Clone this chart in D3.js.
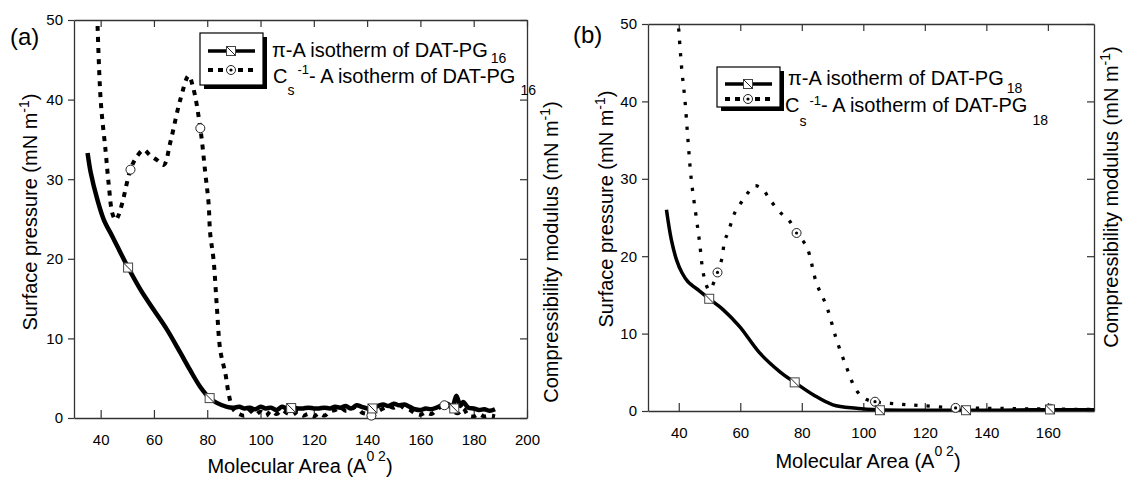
<!DOCTYPE html>
<html>
<head>
<meta charset="utf-8">
<script src="https://cdn.jsdelivr.net/npm/d3@7"></script>
<style>
  body { margin: 0; background: #fff; }
  text { font-family: "Liberation Sans", Arial, sans-serif; fill: #000; }
</style>
</head>
<body>
<svg id="chart" width="1131" height="478"></svg>
<script>
// ---- data ----
var pressureTicks = [0, 10, 20, 30, 40, 50];
var areaTicksA = [40, 60, 80, 100, 120, 140, 160, 180, 200];
var areaTicksB = [40, 60, 80, 100, 120, 140, 160];

// (a) DAT-PG16 : pi-A isotherm  [area, mN/m]
var piA = [[35.1,33.3],[36.3,30.8],[38.8,27.4],[41.2,24.9],[44.4,22.8],[46.2,21.6],[50.3,18.9],
  [55,16.1],[59.9,13.6],[64.9,11.1],[69.9,8.2],[73.6,6],[77.4,3.9],[80.9,2.5],[83.6,1.9],[87.4,1.4],
  [90,1.3],[92,1.4],[94,1.2],[96,1.3],[98,1.1],[100,1.4],[102,1.2],[104,1.3],[106,1.0],[108,1.4],
  [110,1.2],[112,1.3],[114,1.2],[116,1.2],[118,1.3],[120,1.2],[122,1.2],[124,1.3],[126,1.2],[128,1.4],
  [130,1.3],[132,1.5],[134,1.2],[136,1.6],[138,1.4],[140,1.2],[142,1.3],[144,1.5],[146,1.7],[148,1.5],
  [150,1.8],[152,1.6],[154,1.7],[156,1.4],[158,1.1],[160,1.0],[162,1.2],[164,1.1],[166,1.3],[168,1.6],
  [170,1.8],[172,1.5],[173.5,2.8],[175,1.5],[176,2.0],[178,1.3],[180,1.2],[182,1.0],[184,1.1],[186,0.9],[188,1.1]];
// (a) Cs^-1 - A isotherm
var csA = [[38.6,52],[40,40],[41.9,33.4],[43.1,29.1],[44.4,25.7],[45.6,24.9],[46.5,25.3],[48.1,27],
  [51.2,31.2],[53.5,32.8],[56.2,33.7],[58.5,33],[61.2,32.4],[63.7,31.8],[66.2,34.7],[69.9,40],[73,43],
  [74.8,41.4],[77.4,36.4],[79.3,30.7],[80.5,27],[81.1,23.2],[82.4,19.8],[83.6,14],[84.9,8.5],[86.8,5.6],
  [88,3.1],[89.3,1.4],[90.5,0.8],[92,0.5],[94,0.3],[96,0.9],[98,0.4],[100,0.8],[102,0.3],[104,0.9],
  [106,0.5],[108,1.0],[110,0.6],[112,0.4],[114,0.8],[116,0.3],[118,0.5],[120,0.2],[122,0.6],[124,0.3],
  [126,0.8],[128,1.0],[130,1.3],[132,0.9],[134,1.1],[136,1.4],[138,0.7],[140,0.5],[142,0.3],[144,0.8],
  [146,1.2],[148,1.5],[150,1.3],[152,1.7],[154,1.2],[156,1.0],[158,0.6],[160,0.4],[162,0.7],[164,0.5],
  [166,1.0],[168,1.5],[170,1.8],[172,1.0],[174,0.6],[176,1.2],[178,0.3],[180,0.2],[182,0.5],[184,0.2],
  [186,0.3],[188,0.2]];
var piAMarks = [[50.3,18.9],[80.9,2.5],[111.5,1.25],[142,1.2],[172.7,1.2]];
var csAMarks = [[51.2,31.2],[77.4,36.4],[141.6,0.3],[169,1.6]];

// (b) DAT-PG18
var piB = [[36,26],[37.6,22.1],[39.3,19.5],[41,17.9],[43,16.7],[46.8,15.5],[49.9,14.5],[54.4,13.1],[59.8,10.9],
  [66.3,7.5],[72.8,5.1],[77.7,3.7],[83.7,2.1],[90.1,0.8],[97.7,0.35],[105,0.15],[115,0.1],[125,0.1],
  [135,0.1],[145,0.1],[155,0.15],[165,0.15],[175,0.15]];
var csB = [[39.7,51],[40.9,44.5],[42,40.2],[43,35],[44.1,29.8],[45.8,24.7],[46.8,21.7],[47.8,18.2],
  [49,16.2],[50,15.6],[51.7,16.9],[52.6,17.9],[53.9,19.5],[55,22.1],[56,23],[58.2,25.6],[60.4,27],
  [62.5,28.2],[64.7,29.1],[67.4,28.6],[69.6,27.3],[73.4,25.5],[76.1,24.5],[78.3,23],[81.6,21.2],
  [84.8,16.5],[88.1,13.5],[91.3,9.2],[94.5,5.7],[97.7,2.7],[100.5,1.6],[103.8,1.2],[111.3,0.9],
  [118.9,0.7],[129.3,0.4],[140,0.35],[150,0.3],[160,0.25],[175,0.2]];
var piBMarks = [[49.9,14.5],[77.7,3.7],[105.4,0.1],[133.4,0.1],[160.7,0.2]];
var csBMarks = [[52.6,17.9],[78.3,23],[103.8,1.2],[130,0.4],[160.7,0.3]];

var svg = d3.select("#chart");

function square(g, cx, cy) {
  var s = 4.5;
  g.append("rect").attr("x", cx - s).attr("y", cy - s).attr("width", 2 * s).attr("height", 2 * s)
   .attr("fill", "#fff").attr("stroke", "#444").attr("stroke-width", 1);
  g.append("line").attr("x1", cx - s).attr("y1", cy - s).attr("x2", cx + s).attr("y2", cy + s)
   .attr("stroke", "#222").attr("stroke-width", 1);
}

function circle(g, cx, cy, dot) {
  g.append("circle").attr("cx", cx).attr("cy", cy).attr("r", 4.5)
   .attr("fill", "#fff").attr("stroke", "#222").attr("stroke-width", 1);
  if (dot) {
    g.append("circle").attr("cx", cx).attr("cy", cy).attr("r", 1.6).attr("fill", "#000");
  }
}

function panel(p) {
  var g = svg.append("g");
  var x = d3.scaleLinear().domain(p.xDomain).range([p.left, p.right]);
  var y = d3.scaleLinear().domain([0, 50]).range([p.bottom, p.top]);

  g.append("defs").append("clipPath").attr("id", p.id + "clip")
   .append("rect").attr("x", p.left).attr("y", p.top)
   .attr("width", p.right - p.left).attr("height", p.bottom - p.top);

  // axes
  var axes = g.append("g").attr("class", "axes");
  axes.append("g").attr("transform", "translate(0," + p.bottom + ")")
      .call(d3.axisBottom(x).tickValues(p.xTicks).tickSizeInner(-8).tickSizeOuter(0).tickPadding(16));
  axes.append("g").attr("transform", "translate(0," + p.top + ")")
      .call(d3.axisTop(x).tickValues(p.xTicks).tickSizeInner(-7).tickSizeOuter(0).tickFormat(""));
  axes.append("g").attr("transform", "translate(" + p.left + ",0)")
      .call(d3.axisLeft(y).tickValues(pressureTicks).tickSizeInner(6).tickSizeOuter(0).tickPadding(5));
  axes.append("g").attr("transform", "translate(" + p.right + ",0)")
      .call(d3.axisRight(y).tickValues(pressureTicks).tickSizeInner(-7).tickSizeOuter(0).tickFormat(""));
  axes.selectAll("path.domain").attr("stroke", "#333").attr("stroke-width", 1.3);
  axes.selectAll(".tick line").attr("stroke", "#333").attr("stroke-width", 1.2);
  axes.selectAll(".tick text").style("font-size", "15px").attr("fill", "#000");

  // curves
  var line = d3.line().x(function(d) { return x(d[0]); }).y(function(d) { return y(d[1]); })
               .curve(d3.curveCatmullRom.alpha(0.5));
  var plot = g.append("g").attr("clip-path", "url(#" + p.id + "clip)");
  plot.append("path").datum(p.cs).attr("d", line).attr("fill", "none")
      .attr("stroke", "#000").attr("stroke-width", p.csWidth).attr("stroke-dasharray", p.csDash);
  plot.append("path").datum(p.pi).attr("d", line).attr("fill", "none")
      .attr("stroke", "#000").attr("stroke-width", p.piWidth).attr("stroke-linejoin", "round");

  var marks = g.append("g");
  p.csMarks.forEach(function(d) { circle(marks, x(d[0]), y(d[1]), p.dot); });
  p.piMarks.forEach(function(d) { square(marks, x(d[0]), y(d[1])); });

  // panel letter
  g.append("text").attr("x", p.letterX).attr("y", p.letterY).style("font-size", "24px").text(p.letter);

  // axis titles
  var xt = g.append("text").attr("x", p.xTitleX).attr("y", p.xTitleY)
            .attr("text-anchor", "middle").style("font-size", "20px");
  xt.append("tspan").text("Molecular Area (A");
  xt.append("tspan").attr("dy", -12).style("font-size", "14px").text("0 2");
  xt.append("tspan").attr("dy", 12).text(")");

  function yTitle(tx, ty, label) {
    var t = g.append("text").attr("transform", "translate(" + tx + "," + ty + ") rotate(-90)")
             .attr("text-anchor", "middle").style("font-size", "20px");
    t.append("tspan").text(label + " (mN m");
    t.append("tspan").attr("dy", -8).style("font-size", "14px").text("-1");
    t.append("tspan").attr("dy", 8).text(")");
  }
  yTitle(p.yTitleX, p.yTitleY, "Surface pressure");
  yTitle(p.y2TitleX, p.y2TitleY, "Compressibility modulus");

  // legend
  var L = p.legend;
  var lg = g.append("g");
  lg.append("rect").attr("x", L.x + 4).attr("y", L.y + 4).attr("width", L.w).attr("height", L.h).attr("fill", "#000");
  lg.append("rect").attr("x", L.x).attr("y", L.y).attr("width", L.w).attr("height", L.h)
    .attr("fill", "#fff").attr("stroke", "#000").attr("stroke-width", 1.2);
  lg.append("line").attr("x1", L.x + 8).attr("x2", L.x + 55).attr("y1", L.r1).attr("y2", L.r1)
    .attr("stroke", "#000").attr("stroke-width", 3.5);
  square(lg, L.x + 31, L.r1);
  lg.append("line").attr("x1", L.x + 8).attr("x2", L.x + 55).attr("y1", L.r2).attr("y2", L.r2)
    .attr("stroke", "#000").attr("stroke-width", 4).attr("stroke-dasharray", "5,5");
  circle(lg, L.x + 31, L.r2, true);

  var t1 = lg.append("text").attr("x", L.t1x).attr("y", L.t1y).style("font-size", "20px");
  t1.append("tspan").text("\u03c0-A isotherm of DAT-PG");
  t1.append("tspan").attr("dx", 3).attr("dy", L.sub1).style("font-size", "14px").text(p.chain);

  var t2 = lg.append("text").attr("x", L.t2x).attr("y", L.t2y).style("font-size", "20px");
  t2.append("tspan").text("C");
  t2.append("tspan").attr("dy", L.s).style("font-size", "14px").text("s");
  t2.append("tspan").attr("dx", 3).attr("dy", L.sup).style("font-size", "13px").text("-1");
  t2.append("tspan").attr("dy", -(L.s + L.sup)).text("- A isotherm of DAT-PG");
  t2.append("tspan").attr("dx", 5).attr("dy", L.sub2).style("font-size", "14px").text(p.chain);
}

panel({
  id: "a", left: 74, right: 527, top: 20, bottom: 418,
  xDomain: [30, 200], xTicks: areaTicksA,
  pi: piA, cs: csA, piMarks: piAMarks, csMarks: csAMarks, dot: false,
  piWidth: 4.5, csWidth: 4, csDash: "5,6",
  letter: "(a)", letterX: 10, letterY: 45, chain: "16",
  xTitleX: 300, xTitleY: 473,
  yTitleX: 37, yTitleY: 212, y2TitleX: 558, y2TitleY: 252,
  legend: { x: 200, y: 33, w: 63, h: 52, r1: 51, r2: 70,
            t1x: 272, t1y: 57, sub1: 6, t2x: 273, t2y: 83, s: 12, sup: -21, sub2: 12 }
});

panel({
  id: "b", left: 648, right: 1094, top: 24, bottom: 411,
  xDomain: [30, 175], xTicks: areaTicksB,
  pi: piB, cs: csB, piMarks: piBMarks, csMarks: csBMarks, dot: true,
  piWidth: 3.5, csWidth: 3.3, csDash: "3.3,9",
  letter: "(b)", letterX: 573, letterY: 43, chain: "18",
  xTitleX: 868, xTitleY: 468,
  yTitleX: 613, yTitleY: 209, y2TitleX: 1118, y2TitleY: 197,
  legend: { x: 717, y: 67, w: 63, h: 40, r1: 84, r2: 99,
            t1x: 788, t1y: 85, sub1: 8, t2x: 785, t2y: 112, s: 14, sup: -21, sub2: 13 }
});
</script>
</body>
</html>
